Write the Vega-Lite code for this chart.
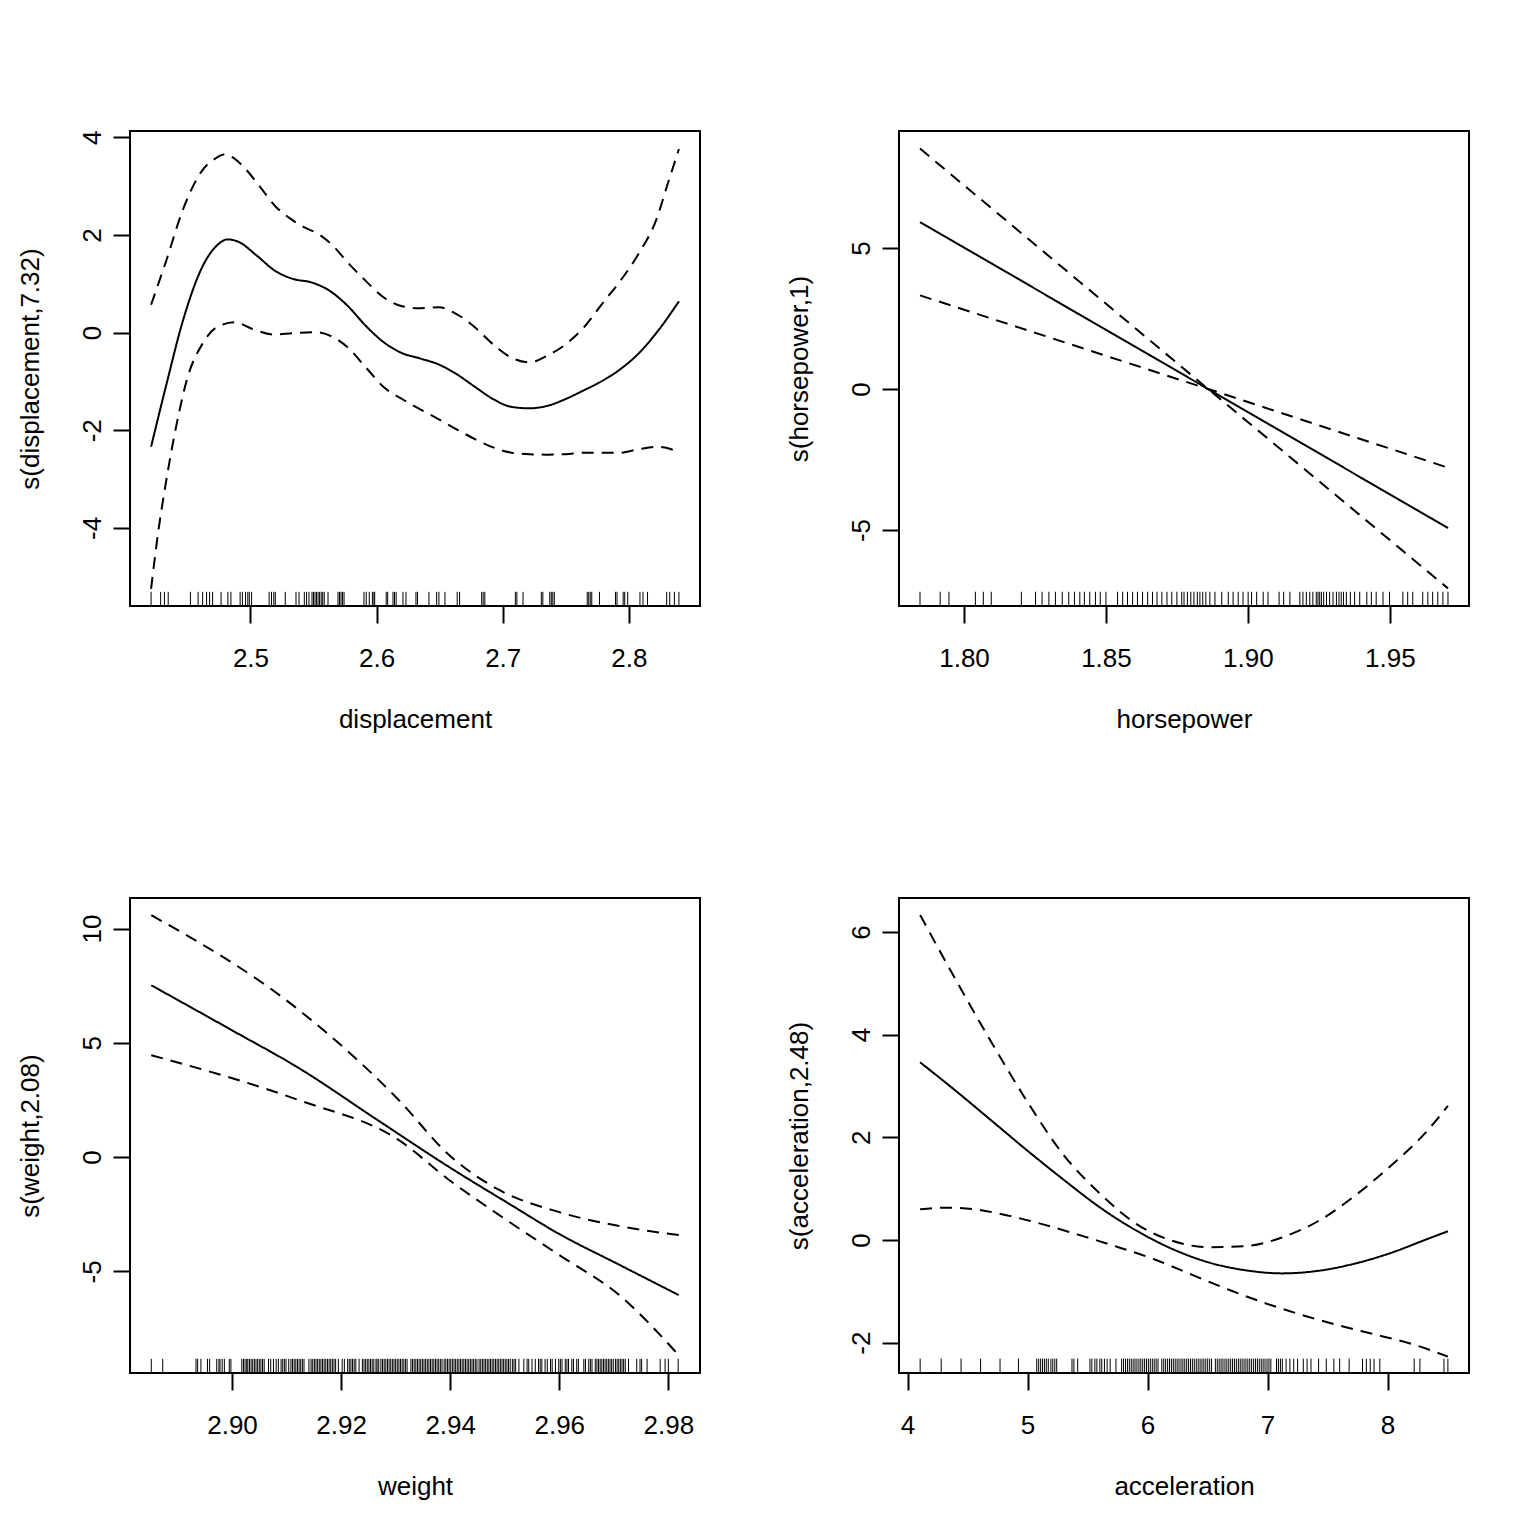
{
  "$schema": "https://vega.github.io/schema/vega-lite/v6.json",
  "background": "white",
  "padding": {"left": 16, "top": 129, "right": 0, "bottom": 0},
  "config": {
    "font": "Liberation Sans",
    "view": {"stroke": "#000", "strokeWidth": 2},
    "axis": {"domain": false, "grid": false, "ticks": true, "tickColor": "#000", "tickWidth": 2, "tickSize": 17, "labelFont": "Liberation Sans", "labelFontSize": 26, "labelColor": "#000", "titleFont": "Liberation Sans", "titleFontSize": 26, "titleFontWeight": "normal", "titleColor": "#000", "labelOverlap": false, "labelFlush": false},
    "axisX": {"labelAngle": 0, "labelBaseline": "top", "labelAlign": "center", "labelPadding": 22, "titlePadding": 35},
    "axisY": {"labelAngle": -90, "labelAlign": "center", "labelBaseline": "bottom", "labelPadding": 8, "titlePadding": 36, "labelExpr": "replace(datum.label, '−', '-')"}
  },
  "datasets": {
    "p1curve": [
      {"x":2.4212,"y":-2.34,"band":"fit"},{"x":2.4328,"y":-1.12,"band":"fit"},{"x":2.4472,"y":0.31,"band":"fit"},{"x":2.4617,"y":1.34,"band":"fit"},{"x":2.4732,"y":1.78,"band":"fit"},{"x":2.4818,"y":1.91,"band":"fit"},{"x":2.4905,"y":1.86,"band":"fit"},{"x":2.5049,"y":1.58,"band":"fit"},{"x":2.5193,"y":1.27,"band":"fit"},{"x":2.5337,"y":1.10,"band":"fit"},{"x":2.5481,"y":1.03,"band":"fit"},{"x":2.5626,"y":0.86,"band":"fit"},{"x":2.577,"y":0.55,"band":"fit"},{"x":2.5914,"y":0.14,"band":"fit"},{"x":2.6058,"y":-0.20,"band":"fit"},{"x":2.6202,"y":-0.42,"band":"fit"},{"x":2.6346,"y":-0.53,"band":"fit"},{"x":2.649,"y":-0.65,"band":"fit"},{"x":2.6634,"y":-0.85,"band":"fit"},{"x":2.6779,"y":-1.11,"band":"fit"},{"x":2.6923,"y":-1.36,"band":"fit"},{"x":2.7067,"y":-1.52,"band":"fit"},{"x":2.7211,"y":-1.55,"band":"fit"},{"x":2.7355,"y":-1.50,"band":"fit"},{"x":2.7499,"y":-1.36,"band":"fit"},{"x":2.7644,"y":-1.18,"band":"fit"},{"x":2.7788,"y":-0.99,"band":"fit"},{"x":2.7932,"y":-0.75,"band":"fit"},{"x":2.8076,"y":-0.43,"band":"fit"},{"x":2.822,"y":0.0,"band":"fit"},{"x":2.8397,"y":0.64,"band":"fit"},
      {"x":2.4212,"y":0.57,"band":"upper"},{"x":2.4328,"y":1.44,"band":"upper"},{"x":2.4472,"y":2.57,"band":"upper"},{"x":2.4617,"y":3.32,"band":"upper"},{"x":2.4718,"y":3.56,"band":"upper"},{"x":2.479,"y":3.65,"band":"upper"},{"x":2.4876,"y":3.56,"band":"upper"},{"x":2.4962,"y":3.35,"band":"upper"},{"x":2.5078,"y":2.98,"band":"upper"},{"x":2.5193,"y":2.60,"band":"upper"},{"x":2.5308,"y":2.35,"band":"upper"},{"x":2.5424,"y":2.16,"band":"upper"},{"x":2.5539,"y":2.02,"band":"upper"},{"x":2.5654,"y":1.78,"band":"upper"},{"x":2.577,"y":1.44,"band":"upper"},{"x":2.5914,"y":1.06,"band":"upper"},{"x":2.6058,"y":0.72,"band":"upper"},{"x":2.6202,"y":0.54,"band":"upper"},{"x":2.6346,"y":0.50,"band":"upper"},{"x":2.649,"y":0.52,"band":"upper"},{"x":2.6634,"y":0.38,"band":"upper"},{"x":2.6779,"y":0.11,"band":"upper"},{"x":2.6923,"y":-0.24,"band":"upper"},{"x":2.7067,"y":-0.51,"band":"upper"},{"x":2.7211,"y":-0.61,"band":"upper"},{"x":2.7355,"y":-0.47,"band":"upper"},{"x":2.7499,"y":-0.24,"band":"upper"},{"x":2.7644,"y":0.11,"band":"upper"},{"x":2.7788,"y":0.59,"band":"upper"},{"x":2.7932,"y":1.06,"band":"upper"},{"x":2.8076,"y":1.61,"band":"upper"},{"x":2.822,"y":2.33,"band":"upper"},{"x":2.8307,"y":3.04,"band":"upper"},{"x":2.8397,"y":3.76,"band":"upper"},
      {"x":2.4212,"y":-5.25,"band":"lower"},{"x":2.427,"y":-4.06,"band":"lower"},{"x":2.4328,"y":-3.10,"band":"lower"},{"x":2.4415,"y":-1.87,"band":"lower"},{"x":2.4501,"y":-0.92,"band":"lower"},{"x":2.4617,"y":-0.24,"band":"lower"},{"x":2.4732,"y":0.11,"band":"lower"},{"x":2.4876,"y":0.21,"band":"lower"},{"x":2.502,"y":0.07,"band":"lower"},{"x":2.5193,"y":-0.04,"band":"lower"},{"x":2.5337,"y":-0.01,"band":"lower"},{"x":2.551,"y":0.01,"band":"lower"},{"x":2.5654,"y":-0.09,"band":"lower"},{"x":2.577,"y":-0.30,"band":"lower"},{"x":2.5914,"y":-0.71,"band":"lower"},{"x":2.6058,"y":-1.12,"band":"lower"},{"x":2.6202,"y":-1.36,"band":"lower"},{"x":2.6346,"y":-1.57,"band":"lower"},{"x":2.649,"y":-1.77,"band":"lower"},{"x":2.6634,"y":-1.98,"band":"lower"},{"x":2.6779,"y":-2.18,"band":"lower"},{"x":2.6923,"y":-2.35,"band":"lower"},{"x":2.7067,"y":-2.46,"band":"lower"},{"x":2.7211,"y":-2.49,"band":"lower"},{"x":2.7355,"y":-2.50,"band":"lower"},{"x":2.7499,"y":-2.49,"band":"lower"},{"x":2.7644,"y":-2.46,"band":"lower"},{"x":2.7788,"y":-2.46,"band":"lower"},{"x":2.7932,"y":-2.46,"band":"lower"},{"x":2.8076,"y":-2.39,"band":"lower"},{"x":2.822,"y":-2.34,"band":"lower"},{"x":2.8336,"y":-2.39,"band":"lower"},{"x":2.8397,"y":-2.48,"band":"lower"}
    ],
    "p1rug": [{"x":2.4212},{"x":2.4288},{"x":2.4318},{"x":2.4348},{"x":2.4524},{"x":2.4585},{"x":2.4621},{"x":2.4652},{"x":2.4676},{"x":2.47},{"x":2.4767},{"x":2.4821},{"x":2.4845},{"x":2.4918},{"x":2.4936},{"x":2.4961},{"x":2.4979},{"x":2.4991},{"x":2.5009},{"x":2.5148},{"x":2.5167},{"x":2.5185},{"x":2.5197},{"x":2.5276},{"x":2.5361},{"x":2.5385},{"x":2.5427},{"x":2.5445},{"x":2.5464},{"x":2.5488},{"x":2.55},{"x":2.5512},{"x":2.5524},{"x":2.5536},{"x":2.5548},{"x":2.5561},{"x":2.5573},{"x":2.5585},{"x":2.5615},{"x":2.5694},{"x":2.5706},{"x":2.5718},{"x":2.573},{"x":2.5742},{"x":2.59},{"x":2.5918},{"x":2.5942},{"x":2.5967},{"x":2.5979},{"x":2.5985},{"x":2.6076},{"x":2.6088},{"x":2.613},{"x":2.6142},{"x":2.6155},{"x":2.6209},{"x":2.6233},{"x":2.6312},{"x":2.6324},{"x":2.6415},{"x":2.6476},{"x":2.6494},{"x":2.6542},{"x":2.6639},{"x":2.6658},{"x":2.6833},{"x":2.6845},{"x":2.6858},{"x":2.71},{"x":2.7112},{"x":2.7161},{"x":2.7306},{"x":2.7318},{"x":2.7373},{"x":2.7385},{"x":2.7397},{"x":2.7409},{"x":2.767},{"x":2.7682},{"x":2.7694},{"x":2.7706},{"x":2.7767},{"x":2.7894},{"x":2.7906},{"x":2.7955},{"x":2.7967},{"x":2.7991},{"x":2.8088},{"x":2.8112},{"x":2.8148},{"x":2.83},{"x":2.8324},{"x":2.8361},{"x":2.8397}],
    "p2curve": [
      {"x":1.7845,"y":5.92,"band":"fit"},{"x":1.9705,"y":-4.93,"band":"fit"},
      {"x":1.7845,"y":8.525,"band":"upper"},{"x":1.886,"y":0,"band":"upper"},{"x":1.9705,"y":-7.07,"band":"upper"},
      {"x":1.7845,"y":3.32,"band":"lower"},{"x":1.886,"y":0,"band":"lower"},{"x":1.9705,"y":-2.79,"band":"lower"}
    ],
    "p2rug": [{"x":1.7845},{"x":1.7916},{"x":1.7947},{"x":1.804},{"x":1.8068},{"x":1.8096},{"x":1.8202},{"x":1.8252},{"x":1.8275},{"x":1.8299},{"x":1.8322},{"x":1.8346},{"x":1.8369},{"x":1.8389},{"x":1.8408},{"x":1.8424},{"x":1.8443},{"x":1.8463},{"x":1.848},{"x":1.85},{"x":1.8541},{"x":1.8559},{"x":1.8576},{"x":1.8594},{"x":1.8611},{"x":1.8629},{"x":1.8647},{"x":1.8664},{"x":1.868},{"x":1.8697},{"x":1.8715},{"x":1.8732},{"x":1.875},{"x":1.8767},{"x":1.8775},{"x":1.8787},{"x":1.8799},{"x":1.881},{"x":1.8822},{"x":1.8831},{"x":1.8841},{"x":1.8852},{"x":1.8866},{"x":1.8884},{"x":1.8908},{"x":1.8931},{"x":1.8948},{"x":1.8966},{"x":1.8983},{"x":1.9001},{"x":1.9013},{"x":1.9031},{"x":1.9054},{"x":1.9071},{"x":1.911},{"x":1.9126},{"x":1.9148},{"x":1.9183},{"x":1.9194},{"x":1.9206},{"x":1.9218},{"x":1.9229},{"x":1.9241},{"x":1.9247},{"x":1.9253},{"x":1.9259},{"x":1.9267},{"x":1.9277},{"x":1.9288},{"x":1.93},{"x":1.9312},{"x":1.9321},{"x":1.9329},{"x":1.9337},{"x":1.9347},{"x":1.9361},{"x":1.9376},{"x":1.9394},{"x":1.9419},{"x":1.9435},{"x":1.9452},{"x":1.9476},{"x":1.9499},{"x":1.9546},{"x":1.9563},{"x":1.9581},{"x":1.9616},{"x":1.9634},{"x":1.9651},{"x":1.9669},{"x":1.9687},{"x":1.9705}],
    "p3curve": [
      {"x":2.8852,"y":7.52,"band":"fit"},{"x":2.90,"y":5.55,"band":"fit"},{"x":2.9123,"y":3.89,"band":"fit"},{"x":2.9265,"y":1.65,"band":"fit"},{"x":2.9401,"y":-0.48,"band":"fit"},{"x":2.9505,"y":-2.0,"band":"fit"},{"x":2.9601,"y":-3.38,"band":"fit"},{"x":2.9709,"y":-4.70,"band":"fit"},{"x":2.9819,"y":-6.04,"band":"fit"},
      {"x":2.8852,"y":10.59,"band":"upper"},{"x":2.9123,"y":6.43,"band":"upper"},{"x":2.9306,"y":2.49,"band":"upper"},{"x":2.9398,"y":0.09,"band":"upper"},{"x":2.949,"y":-1.44,"band":"upper"},{"x":2.96,"y":-2.41,"band":"upper"},{"x":2.971,"y":-3.02,"band":"upper"},{"x":2.9819,"y":-3.41,"band":"upper"},
      {"x":2.8852,"y":4.46,"band":"lower"},{"x":2.9123,"y":2.49,"band":"lower"},{"x":2.9306,"y":0.74,"band":"lower"},{"x":2.9398,"y":-1.0,"band":"lower"},{"x":2.949,"y":-2.54,"band":"lower"},{"x":2.96,"y":-4.29,"band":"lower"},{"x":2.971,"y":-6.04,"band":"lower"},{"x":2.9819,"y":-8.67,"band":"lower"}
    ],
    "p3rug": [{"x":2.8852},{"x":2.8873},{"x":2.8934},{"x":2.8937},{"x":2.8943},{"x":2.8955},{"x":2.8959},{"x":2.8972},{"x":2.8976},{"x":2.8978},{"x":2.8982},{"x":2.8986},{"x":2.8995},{"x":2.8998},{"x":2.9018},{"x":2.9021},{"x":2.9024},{"x":2.9027},{"x":2.9029},{"x":2.9032},{"x":2.9035},{"x":2.9038},{"x":2.9041},{"x":2.9044},{"x":2.9047},{"x":2.905},{"x":2.9053},{"x":2.9056},{"x":2.9059},{"x":2.9067},{"x":2.9071},{"x":2.9076},{"x":2.9081},{"x":2.9085},{"x":2.909},{"x":2.9093},{"x":2.9096},{"x":2.9099},{"x":2.9104},{"x":2.9108},{"x":2.9111},{"x":2.9114},{"x":2.9117},{"x":2.912},{"x":2.9123},{"x":2.9126},{"x":2.9129},{"x":2.9132},{"x":2.9141},{"x":2.9145},{"x":2.9148},{"x":2.9151},{"x":2.9154},{"x":2.9157},{"x":2.916},{"x":2.9163},{"x":2.9166},{"x":2.9169},{"x":2.9172},{"x":2.9175},{"x":2.9178},{"x":2.9181},{"x":2.9184},{"x":2.9187},{"x":2.919},{"x":2.9195},{"x":2.9202},{"x":2.9206},{"x":2.9212},{"x":2.9215},{"x":2.9218},{"x":2.9221},{"x":2.9224},{"x":2.9227},{"x":2.9233},{"x":2.9239},{"x":2.9242},{"x":2.9245},{"x":2.9248},{"x":2.9251},{"x":2.9254},{"x":2.9257},{"x":2.926},{"x":2.9264},{"x":2.9266},{"x":2.9269},{"x":2.9273},{"x":2.9276},{"x":2.9279},{"x":2.9282},{"x":2.9285},{"x":2.9288},{"x":2.9291},{"x":2.9294},{"x":2.9297},{"x":2.93},{"x":2.9303},{"x":2.9306},{"x":2.9309},{"x":2.9312},{"x":2.9315},{"x":2.9318},{"x":2.9321},{"x":2.9328},{"x":2.9331},{"x":2.9334},{"x":2.9337},{"x":2.934},{"x":2.9343},{"x":2.9346},{"x":2.9349},{"x":2.9352},{"x":2.9355},{"x":2.9358},{"x":2.9361},{"x":2.9364},{"x":2.9367},{"x":2.937},{"x":2.9373},{"x":2.9376},{"x":2.9379},{"x":2.9382},{"x":2.9385},{"x":2.9389},{"x":2.9392},{"x":2.9395},{"x":2.9398},{"x":2.9401},{"x":2.9404},{"x":2.9407},{"x":2.941},{"x":2.9413},{"x":2.9416},{"x":2.9419},{"x":2.9422},{"x":2.9425},{"x":2.9428},{"x":2.9431},{"x":2.9434},{"x":2.9437},{"x":2.944},{"x":2.9443},{"x":2.9446},{"x":2.9449},{"x":2.9453},{"x":2.9456},{"x":2.9459},{"x":2.9462},{"x":2.9465},{"x":2.9468},{"x":2.9471},{"x":2.9474},{"x":2.9477},{"x":2.948},{"x":2.9483},{"x":2.9486},{"x":2.9489},{"x":2.9492},{"x":2.9495},{"x":2.9498},{"x":2.9501},{"x":2.9504},{"x":2.9507},{"x":2.951},{"x":2.9514},{"x":2.9517},{"x":2.952},{"x":2.9526},{"x":2.9535},{"x":2.9541},{"x":2.9544},{"x":2.955},{"x":2.9556},{"x":2.9562},{"x":2.9565},{"x":2.9568},{"x":2.9574},{"x":2.9578},{"x":2.9584},{"x":2.9587},{"x":2.9593},{"x":2.9599},{"x":2.9602},{"x":2.9605},{"x":2.9611},{"x":2.9614},{"x":2.9617},{"x":2.9623},{"x":2.9626},{"x":2.9632},{"x":2.9635},{"x":2.9645},{"x":2.9648},{"x":2.9654},{"x":2.9657},{"x":2.966},{"x":2.9666},{"x":2.9669},{"x":2.9672},{"x":2.9675},{"x":2.9678},{"x":2.9681},{"x":2.9684},{"x":2.9687},{"x":2.969},{"x":2.9693},{"x":2.9696},{"x":2.9699},{"x":2.9703},{"x":2.9706},{"x":2.9709},{"x":2.9712},{"x":2.9715},{"x":2.9718},{"x":2.9721},{"x":2.9727},{"x":2.9742},{"x":2.9748},{"x":2.9751},{"x":2.9761},{"x":2.9785},{"x":2.9794},{"x":2.98},{"x":2.9818}],
    "p4curve": [
      {"x":4.105,"y":3.46,"band":"fit"},{"x":4.394,"y":2.92,"band":"fit"},{"x":4.697,"y":2.33,"band":"fit"},{"x":4.999,"y":1.74,"band":"fit"},{"x":5.303,"y":1.17,"band":"fit"},{"x":5.606,"y":0.63,"band":"fit"},{"x":5.909,"y":0.18,"band":"fit"},{"x":6.212,"y":-0.18,"band":"fit"},{"x":6.515,"y":-0.44,"band":"fit"},{"x":6.818,"y":-0.59,"band":"fit"},{"x":7.121,"y":-0.65,"band":"fit"},{"x":7.424,"y":-0.60,"band":"fit"},{"x":7.727,"y":-0.46,"band":"fit"},{"x":8.03,"y":-0.25,"band":"fit"},{"x":8.333,"y":0.02,"band":"fit"},{"x":8.503,"y":0.17,"band":"fit"},
      {"x":4.105,"y":6.33,"band":"upper"},{"x":4.394,"y":5.10,"band":"upper"},{"x":4.697,"y":3.86,"band":"upper"},{"x":4.999,"y":2.69,"band":"upper"},{"x":5.303,"y":1.65,"band":"upper"},{"x":5.606,"y":0.90,"band":"upper"},{"x":5.909,"y":0.31,"band":"upper"},{"x":6.212,"y":-0.02,"band":"upper"},{"x":6.515,"y":-0.14,"band":"upper"},{"x":6.818,"y":-0.12,"band":"upper"},{"x":7.121,"y":0.05,"band":"upper"},{"x":7.424,"y":0.37,"band":"upper"},{"x":7.727,"y":0.86,"band":"upper"},{"x":8.03,"y":1.45,"band":"upper"},{"x":8.333,"y":2.13,"band":"upper"},{"x":8.503,"y":2.61,"band":"upper"},
      {"x":4.105,"y":0.60,"band":"lower"},{"x":4.304,"y":0.63,"band":"lower"},{"x":4.546,"y":0.60,"band":"lower"},{"x":4.849,"y":0.47,"band":"lower"},{"x":5.152,"y":0.29,"band":"lower"},{"x":5.455,"y":0.08,"band":"lower"},{"x":5.757,"y":-0.14,"band":"lower"},{"x":6.061,"y":-0.38,"band":"lower"},{"x":6.363,"y":-0.67,"band":"lower"},{"x":6.667,"y":-0.96,"band":"lower"},{"x":6.969,"y":-1.22,"band":"lower"},{"x":7.272,"y":-1.45,"band":"lower"},{"x":7.575,"y":-1.65,"band":"lower"},{"x":7.878,"y":-1.83,"band":"lower"},{"x":8.181,"y":-2.01,"band":"lower"},{"x":8.503,"y":-2.27,"band":"lower"}
    ],
    "p4rug": [{"x":4.1053},{"x":4.2806},{"x":4.4463},{"x":4.6087},{"x":4.771},{"x":4.9242},{"x":5.077},{"x":5.093},{"x":5.1091},{"x":5.125},{"x":5.1408},{"x":5.1566},{"x":5.1732},{"x":5.1948},{"x":5.2106},{"x":5.2273},{"x":5.2431},{"x":5.3705},{"x":5.3863},{"x":5.418},{"x":5.5204},{"x":5.5362},{"x":5.5612},{"x":5.5779},{"x":5.6028},{"x":5.6187},{"x":5.6411},{"x":5.6636},{"x":5.6886},{"x":5.7369},{"x":5.7843},{"x":5.8002},{"x":5.8168},{"x":5.8327},{"x":5.8485},{"x":5.8643},{"x":5.8801},{"x":5.8959},{"x":5.9117},{"x":5.9284},{"x":5.9442},{"x":5.96},{"x":5.9758},{"x":5.9917},{"x":6.0075},{"x":6.0233},{"x":6.04},{"x":6.0558},{"x":6.0716},{"x":6.0874},{"x":6.119},{"x":6.1349},{"x":6.1507},{"x":6.1673},{"x":6.1832},{"x":6.199},{"x":6.2148},{"x":6.2306},{"x":6.2465},{"x":6.2623},{"x":6.279},{"x":6.2948},{"x":6.3106},{"x":6.3264},{"x":6.3422},{"x":6.3581},{"x":6.3739},{"x":6.3897},{"x":6.4063},{"x":6.4222},{"x":6.438},{"x":6.4538},{"x":6.4696},{"x":6.4855},{"x":6.5013},{"x":6.5179},{"x":6.5337},{"x":6.5654},{"x":6.5812},{"x":6.597},{"x":6.6128},{"x":6.6287},{"x":6.6453},{"x":6.6611},{"x":6.677},{"x":6.6928},{"x":6.7086},{"x":6.7244},{"x":6.7402},{"x":6.7569},{"x":6.7727},{"x":6.7885},{"x":6.8043},{"x":6.8202},{"x":6.836},{"x":6.8518},{"x":6.8676},{"x":6.8843},{"x":6.9001},{"x":6.9159},{"x":6.9317},{"x":6.9475},{"x":6.9634},{"x":6.9792},{"x":6.9958},{"x":7.0117},{"x":7.0275},{"x":7.075},{"x":7.0908},{"x":7.1074},{"x":7.1232},{"x":7.1549},{"x":7.1865},{"x":7.2182},{"x":7.2507},{"x":7.2981},{"x":7.3298},{"x":7.3622},{"x":7.4255},{"x":7.4896},{"x":7.5529},{"x":7.6012},{"x":7.6803},{"x":7.7918},{"x":7.8235},{"x":7.856},{"x":7.8876},{"x":7.9359},{"x":8.2223},{"x":8.2698},{"x":8.4705},{"x":8.503}]
  },
  "columns": 2,
  "spacing": {"row": 164, "column": 84},
  "concat": [
    {
      "width": 570, "height": 475,
      "layer": [
        {"data": {"name": "p1curve"}, "mark": {"type": "line", "color": "#000", "strokeWidth": 2, "strokeCap": "butt", "interpolate": "monotone"},
         "encoding": {
           "x": {"field": "x", "type": "quantitative", "scale": {"domain": [2.4045, 2.8564], "nice": false, "zero": false}, "axis": {"values": [2.5, 2.6, 2.7, 2.8], "format": ".1f", "title": "displacement"}},
           "y": {"field": "y", "type": "quantitative", "scale": {"domain": [-5.6, 4.13], "nice": false, "zero": false}, "axis": {"values": [-4, -2, 0, 2, 4], "format": "d", "title": "s(displacement,7.32)"}},
           "detail": {"field": "band"},
           "strokeDash": {"field": "band", "type": "nominal", "scale": {"domain": ["fit", "upper", "lower"], "range": [[1, 0], [12, 8], [12, 8]]}, "legend": null}
         }},
        {"data": {"name": "p1rug"}, "mark": {"type": "rule", "color": "#000", "strokeWidth": 1},
         "encoding": {"x": {"field": "x", "type": "quantitative"}, "y": {"datum": -5.6, "type": "quantitative"}, "y2": {"datum": -5.31}}}
      ]
    },
    {
      "width": 570, "height": 475,
      "layer": [
        {"data": {"name": "p2curve"}, "mark": {"type": "line", "color": "#000", "strokeWidth": 2, "strokeCap": "butt"},
         "encoding": {
           "x": {"field": "x", "type": "quantitative", "scale": {"domain": [1.7771, 1.9779], "nice": false, "zero": false}, "axis": {"values": [1.8, 1.85, 1.9, 1.95], "format": ".2f", "title": "horsepower"}},
           "y": {"field": "y", "type": "quantitative", "scale": {"domain": [-7.695, 9.149], "nice": false, "zero": false}, "axis": {"values": [-5, 0, 5], "format": "d", "title": "s(horsepower,1)"}},
           "detail": {"field": "band"},
           "strokeDash": {"field": "band", "type": "nominal", "scale": {"domain": ["fit", "upper", "lower"], "range": [[1, 0], [12, 8], [12, 8]]}, "legend": null}
         }},
        {"data": {"name": "p2rug"}, "mark": {"type": "rule", "color": "#000", "strokeWidth": 1},
         "encoding": {"x": {"field": "x", "type": "quantitative"}, "y": {"datum": -7.695, "type": "quantitative"}, "y2": {"datum": -7.19}}}
      ]
    },
    {
      "width": 570, "height": 475,
      "layer": [
        {"data": {"name": "p3curve"}, "mark": {"type": "line", "color": "#000", "strokeWidth": 2, "strokeCap": "butt", "interpolate": "monotone"},
         "encoding": {
           "x": {"field": "x", "type": "quantitative", "scale": {"domain": [2.8813, 2.9858], "nice": false, "zero": false}, "axis": {"values": [2.9, 2.92, 2.94, 2.96, 2.98], "format": ".2f", "title": "weight"}},
           "y": {"field": "y", "type": "quantitative", "scale": {"domain": [-9.45, 11.34], "nice": false, "zero": false}, "axis": {"values": [-5, 0, 5, 10], "format": "d", "title": "s(weight,2.08)"}},
           "detail": {"field": "band"},
           "strokeDash": {"field": "band", "type": "nominal", "scale": {"domain": ["fit", "upper", "lower"], "range": [[1, 0], [12, 8], [12, 8]]}, "legend": null}
         }},
        {"data": {"name": "p3rug"}, "mark": {"type": "rule", "color": "#000", "strokeWidth": 1},
         "encoding": {"x": {"field": "x", "type": "quantitative"}, "y": {"datum": -9.45, "type": "quantitative"}, "y2": {"datum": -8.83}}}
      ]
    },
    {
      "width": 570, "height": 475,
      "layer": [
        {"data": {"name": "p4curve"}, "mark": {"type": "line", "color": "#000", "strokeWidth": 2, "strokeCap": "butt", "interpolate": "monotone"},
         "encoding": {
           "x": {"field": "x", "type": "quantitative", "scale": {"domain": [3.929, 8.679], "nice": false, "zero": false}, "axis": {"values": [4, 5, 6, 7, 8], "format": "d", "title": "acceleration"}},
           "y": {"field": "y", "type": "quantitative", "scale": {"domain": [-2.59, 6.66], "nice": false, "zero": false}, "axis": {"values": [-2, 0, 2, 4, 6], "format": "d", "title": "s(acceleration,2.48)"}},
           "detail": {"field": "band"},
           "strokeDash": {"field": "band", "type": "nominal", "scale": {"domain": ["fit", "upper", "lower"], "range": [[1, 0], [12, 8], [12, 8]]}, "legend": null}
         }},
        {"data": {"name": "p4rug"}, "mark": {"type": "rule", "color": "#000", "strokeWidth": 1},
         "encoding": {"x": {"field": "x", "type": "quantitative"}, "y": {"datum": -2.59, "type": "quantitative"}, "y2": {"datum": -2.31}}}
      ]
    }
  ]
}
